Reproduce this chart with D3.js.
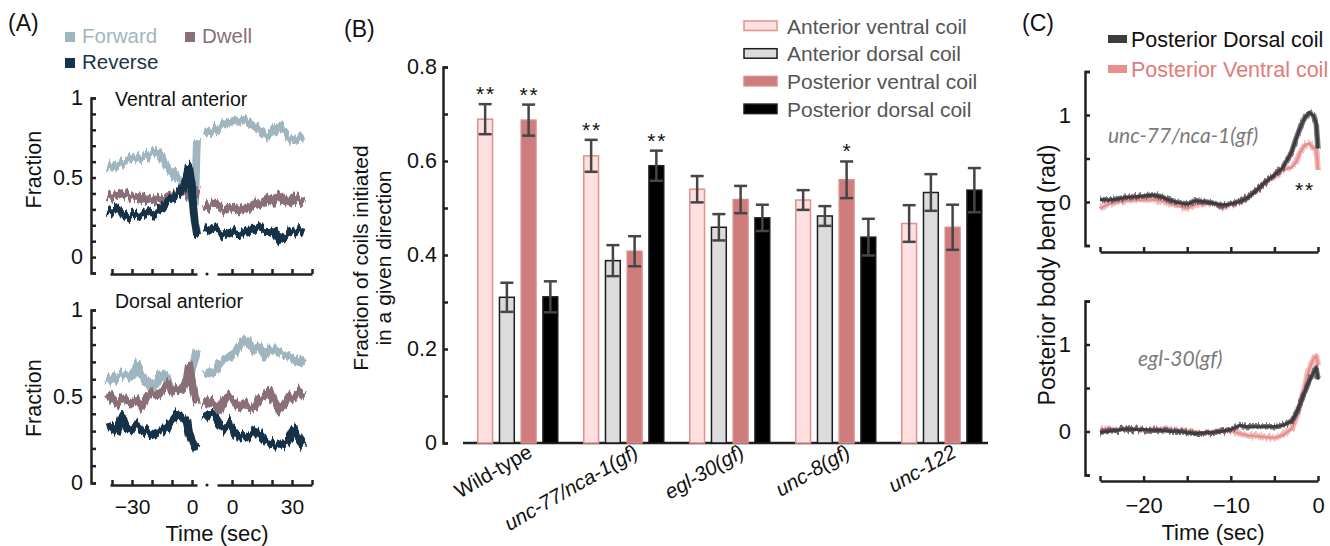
<!DOCTYPE html>
<html><head><meta charset="utf-8">
<script src="https://cdn.jsdelivr.net/npm/d3@7"></script>
<style>
body{margin:0;background:#fff}
svg text{font-family:"Liberation Sans",Arial,Helvetica,sans-serif}
</style>
</head><body>
<svg id="c" width="1330" height="546">
<defs>
  <filter id="fuzzA" filterUnits="userSpaceOnUse" x="0" y="0" width="1330" height="546">
    <feTurbulence type="fractalNoise" baseFrequency="0.35 0.02" numOctaves="2" seed="4" result="n"/>
    <feColorMatrix in="n" type="matrix" values="0 0 0 0 0.5  0 1 0 0 0  0 0 0 0 0  0 0 0 0 1" result="m"/>
    <feDisplacementMap in="SourceGraphic" in2="m" scale="14" xChannelSelector="R" yChannelSelector="G"/>
  </filter>
  <filter id="fuzzC" filterUnits="userSpaceOnUse" x="0" y="0" width="1330" height="546">
    <feTurbulence type="fractalNoise" baseFrequency="0.5 0.05" numOctaves="2" seed="9" result="n"/>
    <feColorMatrix in="n" type="matrix" values="0 0 0 0 0.5  0 1 0 0 0  0 0 0 0 0  0 0 0 0 1" result="m"/>
    <feDisplacementMap in="SourceGraphic" in2="m" scale="7" xChannelSelector="R" yChannelSelector="G"/>
  </filter>
</defs>
</svg>
<script>
// ================= DATA =================
// Panel A: fraction of behaviour states around coil (time in sec)
const aTimesL = [-42.5,-40,-37.5,-35,-32.5,-30,-27.5,-25,-22.5,-20,-17.5,-15,-12.5,-10,-7.5,-5,-2.5,-1.5,0,1.5,2.5];
const aTimesR = [-14,-11.5,-9,-6.5,-4,-1.5,1,3.5,6,8.5,11,13.5,16,18.5,21,23.5,26,28.5,31,33.5,36];
// Ventral anterior
const vaForwardL = [0.578,0.568,0.589,0.600,0.600,0.621,0.621,0.631,0.641,0.652,0.663,0.631,0.578,0.537,0.494,0.463,0.40,0.38,0.36,0.36,0.743];
const vaDwellL   = [0.390,0.379,0.390,0.401,0.390,0.379,0.379,0.369,0.358,0.369,0.358,0.369,0.379,0.390,0.401,0.421,0.401,0.390,0.379,0.395,0.439];
const vaReverseL = [0.285,0.274,0.306,0.274,0.254,0.264,0.274,0.274,0.285,0.274,0.285,0.306,0.349,0.369,0.390,0.421,0.504,0.568,0.406,0.210,0.134];
const vaForwardR = [0.798,0.787,0.798,0.820,0.831,0.841,0.851,0.851,0.862,0.841,0.820,0.798,0.776,0.765,0.798,0.831,0.798,0.754,0.736,0.754,0.743];
const vaDwellR   = [0.306,0.327,0.338,0.317,0.295,0.306,0.317,0.295,0.306,0.317,0.338,0.327,0.349,0.369,0.349,0.390,0.358,0.338,0.379,0.358,0.338];
const vaReverseR = [0.191,0.180,0.170,0.159,0.138,0.149,0.159,0.149,0.149,0.159,0.191,0.180,0.170,0.170,0.159,0.107,0.128,0.149,0.159,0.170,0.159];
// Dorsal anterior
const daForwardL = [0.615,0.586,0.615,0.624,0.634,0.615,0.692,0.624,0.576,0.547,0.595,0.644,0.605,0.538,0.547,0.538,0.595,0.615,0.653,0.72,0.769];
const daDwellL   = [0.518,0.489,0.46,0.489,0.48,0.46,0.48,0.441,0.499,0.518,0.509,0.538,0.576,0.528,0.547,0.538,0.595,0.672,0.586,0.499,0.46];
const daReverseL = [0.326,0.335,0.297,0.393,0.316,0.316,0.335,0.306,0.297,0.277,0.297,0.297,0.316,0.355,0.393,0.383,0.355,0.287,0.239,0.21,0.229];
const daForwardR = [0.653,0.634,0.634,0.682,0.711,0.72,0.75,0.788,0.836,0.807,0.769,0.788,0.74,0.769,0.778,0.75,0.74,0.73,0.72,0.70,0.73];
const daDwellR   = [0.441,0.48,0.451,0.422,0.48,0.499,0.47,0.441,0.46,0.441,0.432,0.48,0.499,0.538,0.48,0.432,0.451,0.499,0.489,0.528,0.499];
const daReverseR = [0.364,0.393,0.393,0.345,0.316,0.345,0.297,0.268,0.277,0.268,0.297,0.287,0.249,0.239,0.22,0.229,0.22,0.249,0.316,0.249,0.21];
const aStates = ['Forward','Dwell','Reverse'];
const aYTicksTop = [-0.1,0,0.1,0.2,0.3,0.4,0.5,0.6,0.7,0.8,0.9,1];
const aYTicks = [0,0.1,0.2,0.3,0.4,0.5,0.6,0.7,0.8,0.9,1];
const aYLabels = [0,0.5,1];
const aXTicksL = [-40,-30,-20,-10,0];
const aXTicksR = [0,10,20,30,40];
const aXLabelsL = [-30,0];
const aXLabelsR = [0,30];

// Panel B: fraction of coils initiated in a given direction
const groups = ['Wild-type','unc-77/nca-1(gf)','egl-30(gf)','unc-8(gf)','unc-122'];
const coilTypes = ['Anterior ventral coil','Anterior dorsal coil','Posterior ventral coil','Posterior dorsal coil'];
const antVentral     = [0.689,0.611,0.540,0.517,0.467];
const antVentralErr  = [0.032,0.034,0.028,0.021,0.039];
const antDorsal      = [0.310,0.388,0.459,0.483,0.533];
const antDorsalErr   = [0.031,0.033,0.028,0.021,0.039];
const postVentral    = [0.687,0.408,0.518,0.560,0.459];
const postVentralErr = [0.033,0.032,0.029,0.039,0.048];
const postDorsal     = [0.311,0.590,0.479,0.438,0.538];
const postDorsalErr  = [0.033,0.032,0.028,0.039,0.047];
const sigAntVentral  = ['**','**','','',''];
const sigAntDorsal   = ['','','','',''];
const sigPostVentral = ['**','','','*',''];
const sigPostDorsal  = ['','**','','',''];
const bYTicks = [0,0.1,0.2,0.3,0.4,0.5,0.6,0.7,0.8];
const bYLabels = [0,0.2,0.4,0.6,0.8];

// Panel C: posterior body bend (rad)
const cTimes = [-25,-24,-23,-22,-21,-20,-19,-18,-17,-16,-15,-14,-13,-12,-11,-10,-9,-8,-7,-6,-5,-4,-3,-2.5,-2,-1.5,-1,-0.5,-0.2,0];
const unc77Dorsal  = [0.03,0.023,0.034,0.054,0.06,0.07,0.08,0.06,0.023,-0.008,-0.023,0.015,0.004,-0.015,-0.034,-0.023,0.004,0.054,0.138,0.234,0.31,0.40,0.58,0.73,0.866,0.97,1.03,0.99,0.90,0.62];
const unc77Ventral = [-0.073,-0.023,-0.004,0.015,0.023,0.023,0.03,0.015,-0.015,-0.046,-0.073,-0.023,-0.015,-0.023,-0.054,-0.034,0.004,0.054,0.138,0.234,0.29,0.368,0.40,0.464,0.58,0.655,0.674,0.617,0.617,0.368];
const egl30Dorsal  = [-0.008,0.004,0.015,0.03,0.023,0.023,0.015,0.015,0.004,0.004,-0.015,-0.023,-0.015,-0.008,0.004,0.023,0.069,0.054,0.054,0.054,0.054,0.07,0.12,0.21,0.33,0.46,0.58,0.68,0.73,0.60];
const egl30Ventral = [0.03,0.023,0.023,0.03,0.023,0.023,0.03,0.03,0.023,0.015,0.004,-0.015,-0.015,0.004,0.004,0.004,-0.023,-0.046,-0.054,-0.065,-0.073,-0.04,0.03,0.16,0.33,0.53,0.72,0.84,0.866,0.76];
const cYTicks = [-0.5,0,0.5,1,1.5];
const cYLabels = [0,1];
const cXTicks = [-25,-20,-15,-10,-5,0];
const cXLabels = [-20,-10,0];

// ================= DRAWING =================
const svg = d3.select('#c');
const AX = '#222';
const colA = {Forward:'#9fb6c0', Dwell:'#8a6e78', Reverse:'#15334a'};
const minus = v => (v < 0 ? '\u2212' + Math.abs(v) : String(v));

function styleAxis(g, fs){
  g.select('.domain').attr('stroke', AX).attr('stroke-width', 2.5);
  g.selectAll('.tick line').attr('stroke', AX).attr('stroke-width', 2.5);
  g.selectAll('.tick text').attr('fill', '#111').style('font-size', fs + 'px')
   .style('font-family','"Liberation Sans",Arial,sans-serif');
}
function yAxis(scale, x, ticks, labels, pad, fs){
  const g = svg.append('g').attr('transform', `translate(${x},0)`)
    .call(d3.axisLeft(scale).tickValues(ticks).tickSizeInner(-5).tickSizeOuter(-5).tickPadding(pad)
      .tickFormat(v => labels.some(l => Math.abs(l - v) < 1e-9) ? minus(+v.toFixed(2)) : ''));
  styleAxis(g, fs);
  return g;
}
function xAxis(scale, y, ticks, labels, fs, pad){
  const g = svg.append('g').attr('transform', `translate(0,${y})`)
    .call(d3.axisBottom(scale).tickValues(ticks).tickSizeInner(-5).tickSizeOuter(0).tickPadding(pad)
      .tickFormat(v => labels.includes(v) ? minus(v) : ''));
  styleAxis(g, fs);
  return g;
}
function text(x, y, s, opt = {}){
  const t = svg.append('text').attr('x', x).attr('y', y).text(s)
    .style('font-size', (opt.size || 20) + 'px').attr('fill', opt.fill || '#111');
  if (opt.anchor) t.attr('text-anchor', opt.anchor);
  if (opt.rotate != null) t.attr('transform', `rotate(${opt.rotate},${x},${y})`);
  if (opt.italic) t.style('font-style', 'italic');
  if (opt.family) t.style('font-family', opt.family);
  return t;
}

// ---------- Panel A ----------
text(8, 31, '(A)', {size: 23});
const aLegend = [
  {k:'Forward', x:65, y:32},
  {k:'Dwell', x:185, y:32},
  {k:'Reverse', x:65, y:58}
];
aLegend.forEach(d => {
  svg.append('rect').attr('x', d.x).attr('y', d.y).attr('width', 10).attr('height', 10).attr('fill', colA[d.k]);
  text(d.x + 17, d.y + 11, d.k, {size: 20.5, fill: colA[d.k]});
});

const xAL = d3.scaleLinear().domain([-40, 0]).range([112, 192]);
const xAR = d3.scaleLinear().domain([0, 30]).range([232, 292]);

function panelA(yScale, yTicks, xAxisY, title, titleY, L, R, showLabels, labelAt){
  yAxis(yScale, 91, yTicks, aYLabels, 8, 21.5);
  const axL = xAL.copy().domain([-41, 2.5]).range([xAL(-41), xAL(2.5)]);
  const axR = xAR.copy().domain([-7.5, 40]).range([xAR(-7.5), xAR(40)]);
  xAxis(axL, xAxisY, aXTicksL, showLabels ? aXLabelsL : [], 21, 14);
  xAxis(axR, xAxisY, aXTicksR, showLabels ? aXLabelsR : [], 21, 14);
  svg.append('circle').attr('cx', (xAL(2.5) + xAR(-7.5)) / 2).attr('cy', xAxisY).attr('r', 1.6).attr('fill', AX);
  text(115, titleY, title, {size: 19.5});
  const lineL = d3.line().x((v, i) => xAL(aTimesL[i])).y(v => yScale(v));
  const lineR = d3.line().x((v, i) => xAR(aTimesR[i])).y(v => yScale(v));
  const gl = svg.append('g').attr('filter', 'url(#fuzzA)');
  aStates.forEach((s, j) => {
    [[lineL, L[j]], [lineR, R[j]]].forEach(([ln, arr]) => {
      gl.append('path').attr('d', ln(arr)).attr('fill', 'none')
        .attr('stroke', colA[s]).attr('stroke-width', 8).attr('stroke-linejoin', 'round').attr('stroke-linecap', 'butt');
    });
  });
  text(41, yScale(labelAt), 'Fraction', {size: 21.5, anchor: 'middle', rotate: -90});
}
const yA1 = d3.scaleLinear().domain([-0.1, 1]).range([273, 98]);
const yA2 = d3.scaleLinear().domain([0, 1]).range([483, 310]);
panelA(yA1, aYTicksTop, 274, 'Ventral anterior', 106, [vaForwardL, vaDwellL, vaReverseL], [vaForwardR, vaDwellR, vaReverseR], false, 0.55);
panelA(yA2, aYTicks, 485, 'Dorsal anterior', 308, [daForwardL, daDwellL, daReverseL], [daForwardR, daDwellR, daReverseR], true, 0.49);
text(217, 541, 'Time (sec)', {size: 22, anchor: 'middle'});

// ---------- Panel B ----------
text(344, 37, '(B)', {size: 23});
const yB = d3.scaleLinear().domain([0, 0.8]).range([443, 67]);
const x0 = d3.scaleBand().domain(groups).range([464.75, 994.75]).paddingInner(0.231).paddingOuter(0.1155);
const x1 = d3.scaleBand().domain(coilTypes).range([0, x0.bandwidth()]).paddingInner(0.25).paddingOuter(0);
const bStyle = {
  'Anterior ventral coil': {fill:'#fde0df', stroke:'#e0918f'},
  'Anterior dorsal coil':  {fill:'#dcdcdc', stroke:'#1c1c1c'},
  'Posterior ventral coil':{fill:'#cf7c7c', stroke:'#d68c8b'},
  'Posterior dorsal coil': {fill:'#000000', stroke:'#1c1c1c'}
};
const bVals = [antVentral, antDorsal, postVentral, postDorsal];
const bErrs = [antVentralErr, antDorsalErr, postVentralErr, postDorsalErr];
const bSig  = [sigAntVentral, sigAntDorsal, sigPostVentral, sigPostDorsal];
yAxis(yB, 443, bYTicks, bYLabels, 6, 21.5);
svg.append('line').attr('x1', 463).attr('x2', 988).attr('y1', 443).attr('y2', 443).attr('stroke', AX).attr('stroke-width', 2.5);

groups.forEach((g, gi) => {
  coilTypes.forEach((c, ci) => {
    const v = bVals[ci][gi], e = bErrs[ci][gi];
    const bx = x0(g) + x1(c), bw = x1.bandwidth();
    svg.append('rect').attr('x', bx + 0.75).attr('y', yB(v)).attr('width', bw - 1.5).attr('height', yB(0) - yB(v))
      .attr('fill', bStyle[c].fill).attr('stroke', bStyle[c].stroke).attr('stroke-width', 1.5);
    const cx = bx + bw / 2, cap = 6.5;
    const eg = svg.append('g').attr('stroke', '#454545').attr('stroke-width', 2.5);
    eg.append('line').attr('x1', cx).attr('x2', cx).attr('y1', yB(v + e)).attr('y2', yB(v - e));
    eg.append('line').attr('x1', cx - cap).attr('x2', cx + cap).attr('y1', yB(v + e)).attr('y2', yB(v + e));
    eg.append('line').attr('x1', cx - cap).attr('x2', cx + cap).attr('y1', yB(v - e)).attr('y2', yB(v - e));
    const s = bSig[ci][gi];
    if (s) text(cx, yB(v + e) - 3, s.split('').join('\u200A'), {size: 21, anchor: 'middle'});
  });
});
groups.forEach(g => {
  const t = text(x0(g) + x0.bandwidth() / 2 + 16, 456, g, {size: 20.5, anchor: 'end', rotate: -30});
  if (g !== 'Wild-type') t.style('font-style', 'italic');
});
const yTitleB = (yB(0) + yB(0.8)) / 2 + 3;
text(368, yTitleB, 'Fraction of coils initiated', {size: 21, anchor: 'middle', rotate: -90});
text(391, yTitleB, 'in a given direction', {size: 21, anchor: 'middle', rotate: -90});
// legend
coilTypes.forEach((c, i) => {
  const y = 21 + i * 27.7;
  svg.append('rect').attr('x', 744).attr('y', y).attr('width', 33).attr('height', 9.5)
    .attr('fill', bStyle[c].fill).attr('stroke', bStyle[c].stroke).attr('stroke-width', 1.5);
  text(787, y + 12.5, c, {size: 21, fill: '#555'});
});

// ---------- Panel C ----------
text(1022, 31, '(C)', {size: 23});
const xC = d3.scaleLinear().domain([-25, 0]).range([1100, 1318]);
const yC1 = d3.scaleLinear().domain([-0.5, 1.5]).range([245.5, 71.5]);
const yC2 = d3.scaleLinear().domain([-0.5, 1.5]).range([475, 301]);
const colDark = '#3e3b41', colPink = '#e8908e';
function panelC(yScale, xAxisY, dorsal, ventral, showLabels, label, lx, ly){
  yAxis(yScale, 1085, cYTicks, cYLabels, 14, 22);
  xAxis(xC, xAxisY, cXTicks, showLabels ? cXLabels : [], 22, 16);
  const ln = d3.line().x((v, i) => xC(cTimes[i])).y(v => yScale(v));
  svg.append('path').attr('d', ln(ventral)).attr('fill', 'none').attr('stroke', colPink).attr('stroke-opacity', 0.6).attr('stroke-width', 6).attr('stroke-linejoin','round').attr('filter','url(#fuzzC)');
  svg.append('path').attr('d', ln(ventral)).attr('fill', 'none').attr('stroke', colPink).attr('stroke-width', 2.5).attr('stroke-linejoin','round');
  svg.append('path').attr('d', ln(dorsal)).attr('fill', 'none').attr('stroke', colDark).attr('stroke-opacity', 0.7).attr('stroke-width', 5.5).attr('stroke-linejoin','round').attr('filter','url(#fuzzC)');
  svg.append('path').attr('d', ln(dorsal)).attr('fill', 'none').attr('stroke', colDark).attr('stroke-width', 3).attr('stroke-linejoin','round');
  text(lx, ly, label, {size: 21, fill: '#7a7a7a', italic: true, family: 'Lato, "Open Sans", sans-serif'});
}
panelC(yC1, 252, unc77Dorsal, unc77Ventral, false, 'unc-77/nca-1(gf)', 1108, 143);
panelC(yC2, 481, egl30Dorsal, egl30Ventral, true, 'egl-30(gf)', 1138, 366);
text(xC(-1.6), yC1(0.2) + 12, '*\u200A*', {size: 21, anchor: 'middle'});
text(1213, 540, 'Time (sec)', {size: 22, anchor: 'middle'});
text(1055, 275, 'Posterior body bend (rad)', {size: 23, anchor: 'middle', rotate: -90});
// legend C
[{k:'Posterior Dorsal coil', c: colDark, tc:'#111', y: 39},
 {k:'Posterior Ventral coil', c: colPink, tc:'#e07c7b', y: 69}].forEach(d => {
  svg.append('line').attr('x1', 1108).attr('x2', 1127).attr('y1', d.y).attr('y2', d.y).attr('stroke', d.c).attr('stroke-width', 8);
  text(1131, d.y + 8, d.k, {size: 21.5, fill: d.tc});
});
</script>
</body></html>
